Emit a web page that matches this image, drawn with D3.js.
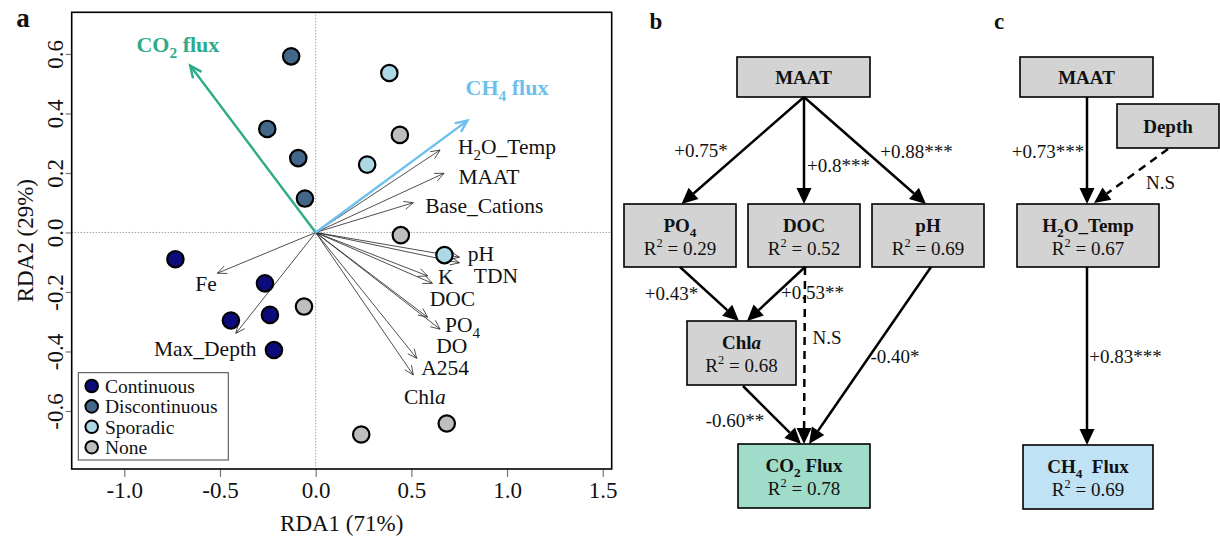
<!DOCTYPE html>
<html><head><meta charset="utf-8">
<script src="https://cdn.jsdelivr.net/npm/d3@7"></script>
<style>
body{margin:0;background:#fff}
svg{display:block}
text{font-family:"Liberation Serif","Times New Roman",serif;fill:#111}
</style>
</head><body><svg id="chart" width="1220" height="536"></svg>
<script>
// ================= Panel a : RDA biplot data =================
const groups = ["Continuous","Discontinuous","Sporadic","None"];
const groupColors = ["#0b0b7c","#436788","#add8e6","#bebebe"];
const siteGroup = [0,0,0,0,0, 1,1,1,1, 2,2,2, 3,3,3,3,3];
const siteRDA1 = [-0.733,-0.265,-0.443,-0.239,-0.218, -0.128,-0.253,-0.091,-0.056, 0.385,0.269,0.673, 0.440,0.445,-0.061,0.685,0.238];
const siteRDA2 = [-0.090,-0.171,-0.296,-0.277,-0.395, 0.592,0.348,0.250,0.114, 0.536,0.228,-0.076, 0.328,-0.009,-0.249,-0.642,-0.679];

const envNames = ["H_{2}O_Temp","MAAT","Base_Cations","pH","TDN","K","DOC","PO_{4}","DO","A254","Chl~{a}","Fe","Max_Depth"];
const envRDA1 = [0.650,0.671,0.510,0.751,0.751,0.585,0.610,0.585,0.650,0.528,0.510,-0.514,-0.417];
const envRDA2 = [0.277,0.199,0.100,-0.083,-0.102,-0.146,-0.171,-0.285,-0.325,-0.423,-0.479,-0.137,-0.339];
const envLabRDA1 = [1.000,0.905,0.881,0.864,0.942,0.680,0.715,0.767,0.711,0.676,0.571,-0.573,-0.577];
const envLabRDA2 = [0.288,0.188,0.092,-0.069,-0.143,-0.149,-0.223,-0.308,-0.381,-0.454,-0.550,-0.171,-0.389];

const respNames = ["CO_{2} flux","CH_{4} flux"];
const respColors = ["#2eab8a","#6dbfec"];
const respRDA1 = [-0.656,0.793];
const respRDA2 = [0.561,0.376];
const respLabRDA1 = [-0.720,1.000];
const respLabRDA2 = [0.634,0.488];

const xTicks = [-1.0,-0.5,0.0,0.5,1.0,1.5];
const yTicks = [-0.6,-0.4,-0.2,0.0,0.2,0.4,0.6];
const xTitle = "RDA1 (71%)";
const yTitle = "RDA2 (29%)";

// ================= Panels b, c : path diagrams data =================
const nodeNames = ["MAAT","PO_{4}","DOC","pH","Chl~{a}","CO_{2} Flux","MAAT","Depth","H_{2}O_Temp","CH_{4}\u00a0\u00a0Flux"];
const nodeR2 = [null,0.29,0.52,0.69,0.68,0.78,null,null,0.67,0.69];
const nodeKind = ["grey","grey","grey","grey","grey","co2","grey","grey","grey","ch4"];
const edgeFrom = [0,0,0,1,2,2,3,4,6,7,8];
const edgeTo   = [1,2,3,4,4,5,5,5,8,8,9];
const edgeCoef = ["+0.75*","+0.8***","+0.88***","+0.43*","+0.53**","N.S","-0.40*","-0.60**","+0.73***","N.S","+0.83***"];
const edgeSignificant = [true,true,true,true,true,false,true,true,true,false,true];

// ---------------- layout (pixels) ----------------
const FONT = '"Liberation Serif","Times New Roman",serif';
const svg = d3.select("#chart");

function rich(sel, str, fs){
  const re = /(_\{[^}]*\}|\^\{[^}]*\}|~\{[^}]*\})/g;
  const parts = str.split(re).filter(s => s.length);
  let pending = 0;
  parts.forEach(p => {
    let t;
    if (p.startsWith("_{")) {
      t = sel.append("tspan").attr("font-size", fs*0.7).attr("dy", pending + fs*0.28).text(p.slice(2,-1));
      pending = -fs*0.28;
    } else if (p.startsWith("^{")) {
      t = sel.append("tspan").attr("font-size", fs*0.65).attr("dy", pending - fs*0.38).text(p.slice(2,-1));
      pending = fs*0.38;
    } else if (p.startsWith("~{")) {
      t = sel.append("tspan").attr("font-style","italic").text(p.slice(2,-1));
      if (pending) { t.attr("dy", pending); pending = 0; }
    } else {
      t = sel.append("tspan").text(p);
      if (pending) { t.attr("dy", pending); pending = 0; }
    }
  });
}

// ================= Panel a =================
const plotL = 71.7, plotR = 611.7, plotT = 12.3, plotB = 469;
const x = d3.scaleLinear().domain([-1.275, 1.547]).range([plotL, plotR]);
const y = d3.scaleLinear().domain([-0.795, 0.740]).range([plotB, plotT]);

const ga = svg.append("g");

ga.append("line").attr("x1", x(0)).attr("x2", x(0)).attr("y1", plotT).attr("y2", plotB)
  .attr("stroke","#666").attr("stroke-width",0.9).attr("stroke-dasharray","1,2");
ga.append("line").attr("x1", plotL).attr("x2", plotR).attr("y1", y(0)).attr("y2", y(0))
  .attr("stroke","#666").attr("stroke-width",0.9).attr("stroke-dasharray","1,2");

const xAxis = ga.append("g").attr("transform", `translate(0,${plotB})`)
  .call(d3.axisBottom(x).tickValues(xTicks).tickSize(8).tickFormat(d => d.toFixed(1)));
xAxis.select(".domain").remove();
xAxis.selectAll(".tick line").attr("stroke","#777").attr("stroke-width",1.2);
xAxis.selectAll(".tick text").attr("font-family",FONT).attr("font-size",23).attr("fill","#111")
  .attr("y",21).attr("dy","0.35em");

const yAxis = ga.append("g").attr("transform", `translate(${plotL},0)`)
  .call(d3.axisLeft(y).tickValues(yTicks).tickSize(6).tickFormat(d => d.toFixed(1)));
yAxis.select(".domain").remove();
yAxis.selectAll(".tick line").attr("stroke","#777").attr("stroke-width",1.2);
yAxis.selectAll(".tick text").attr("font-family",FONT).attr("font-size",23).attr("fill","#111")
  .attr("x",0).attr("y",0).attr("dy","0.35em").attr("text-anchor","middle")
  .attr("transform","translate(-17,0) rotate(-90)");

ga.append("rect").attr("x",plotL).attr("y",plotT).attr("width",plotR-plotL).attr("height",plotB-plotT)
  .attr("fill","none").attr("stroke","#000").attr("stroke-width",1.6);

ga.append("text").attr("x",(plotL+plotR)/2).attr("y",523).attr("dy","0.35em")
  .attr("text-anchor","middle").attr("font-size",23).text(xTitle);
ga.append("text").attr("transform",`translate(25,${(plotT+plotB)/2}) rotate(-90)`).attr("dy","0.35em")
  .attr("text-anchor","middle").attr("font-size",23).text(yTitle);
svg.append("text").attr("x",23).attr("y",27).attr("text-anchor","middle")
  .attr("font-size",27).attr("font-weight","bold").text("a");

function openHead(g, x1, y1, x2, y2, L, color, w){
  const a = Math.atan2(y2-y1, x2-x1);
  const s = 0.42;
  const p1 = [x2 + L*Math.cos(a+Math.PI-s), y2 + L*Math.sin(a+Math.PI-s)];
  const p2 = [x2 + L*Math.cos(a+Math.PI+s), y2 + L*Math.sin(a+Math.PI+s)];
  g.append("path").attr("d",`M${p1[0]},${p1[1]}L${x2},${y2}L${p2[0]},${p2[1]}`)
    .attr("fill","none").attr("stroke",color).attr("stroke-width",w);
}

envNames.forEach((n,i) => {
  const x2 = x(envRDA1[i]), y2 = y(envRDA2[i]);
  ga.append("line").attr("x1",x(0)).attr("y1",y(0)).attr("x2",x2).attr("y2",y2)
    .attr("stroke","#222").attr("stroke-width",0.8);
  openHead(ga, x(0), y(0), x2, y2, 10, "#222", 0.8);
});
respNames.forEach((n,i) => {
  const x2 = x(respRDA1[i]), y2 = y(respRDA2[i]);
  ga.append("line").attr("x1",x(0)).attr("y1",y(0)).attr("x2",x2).attr("y2",y2)
    .attr("stroke",respColors[i]).attr("stroke-width",2.4);
  openHead(ga, x(0), y(0), x2, y2, 13, respColors[i], 2.4);
});

siteRDA1.forEach((v,i) => {
  ga.append("circle").attr("cx",x(v)).attr("cy",y(siteRDA2[i])).attr("r",8.2)
    .attr("fill",groupColors[siteGroup[i]]).attr("stroke","#000").attr("stroke-width",2.2);
});

envNames.forEach((n,i) => {
  const t = ga.append("text").attr("x",x(envLabRDA1[i])).attr("y",y(envLabRDA2[i]) + 21.5*0.35)
    .attr("text-anchor","middle").attr("font-size",21.5);
  rich(t, n, 21.5);
});
respNames.forEach((n,i) => {
  const t = ga.append("text").attr("x",x(respLabRDA1[i])).attr("y",y(respLabRDA2[i]) + 22*0.35)
    .attr("text-anchor","middle").attr("font-size",22).attr("font-weight","bold");
  t.style("fill",respColors[i]);
  rich(t, n, 22);
});

const lg = ga.append("g");
lg.append("rect").attr("x",78.3).attr("y",372.7).attr("width",150).attr("height",87.3)
  .attr("fill","#fff").attr("stroke","#444").attr("stroke-width",1);
groups.forEach((gname,i) => {
  const cy = 386 + i*20.4;
  lg.append("circle").attr("cx",91.7).attr("cy",cy).attr("r",6.3)
    .attr("fill",groupColors[i]).attr("stroke","#000").attr("stroke-width",2);
  lg.append("text").attr("x",105).attr("y",cy).attr("dy","0.35em").attr("font-size",19.5).text(gname);
});

// ================= Panels b & c =================
const nodeBox = [
  [737,57,870,97],[624,204,736,267],[748,204,860,267],[872,204,984,267],
  [687,321,796,385],[738,444,870,508],
  [1020,57,1153,97],[1117,104,1219,148],[1017,204,1159,267],[1023,445,1153,509]
];
const edgeGeom = [
  [804,97,681.5,204],[804,97,804,204],[804,97,926,204],[680,267,739,321],[805,267,747,321],
  [805,267,804,444],[931,267,809,444],[743,386,801,444],
  [1087,97,1087,204],[1168,149,1094,203],[1087,267,1087,445]
];
const edgeLab = [
  [701,150],[838.5,165],[916.6,151.7],[671.5,293.3],[812.5,292.7],
  [827,337],[895,356],[735,420],[1048,151.7],[1160.5,182.7],[1125.6,356]
];
const fills = {grey:"#d3d3d3", co2:"#9fdcc9", ch4:"#bfe2f5"};

const gb = svg.append("g");
svg.append("text").attr("x",656).attr("y",29).attr("text-anchor","middle")
  .attr("font-size",23).attr("font-weight","bold").text("b");
svg.append("text").attr("x",999).attr("y",29).attr("text-anchor","middle")
  .attr("font-size",23).attr("font-weight","bold").text("c");

nodeNames.forEach((n,i) => {
  const [x0,y0,x1,y1] = nodeBox[i];
  gb.append("rect").attr("x",x0).attr("y",y0).attr("width",x1-x0).attr("height",y1-y0)
    .attr("fill",fills[nodeKind[i]]).attr("stroke","#000").attr("stroke-width",1.6);
  const cx = (x0+x1)/2;
  if (nodeR2[i] === null) {
    const t = gb.append("text").attr("x",cx).attr("y",(y0+y1)/2 + 19*0.35)
      .attr("text-anchor","middle").attr("font-size",19).attr("font-weight","bold");
    rich(t, n, 19);
  } else {
    const t = gb.append("text").attr("x",cx).attr("y",y0 + 21 + 19*0.35)
      .attr("text-anchor","middle").attr("font-size",19).attr("font-weight","bold");
    rich(t, n, 19);
    const r = gb.append("text").attr("x",cx).attr("y",y0 + 44 + 19*0.35)
      .attr("text-anchor","middle").attr("font-size",19);
    rich(r, "R^{2} = " + nodeR2[i].toFixed(2), 19);
  }
});

edgeFrom.forEach((f,i) => {
  const [x1,y1,x2,y2] = edgeGeom[i];
  const a = Math.atan2(y2-y1, x2-x1);
  const L = 16, H = 7.5;
  const bx = x2 - L*Math.cos(a), by = y2 - L*Math.sin(a);
  const ln = gb.append("line").attr("x1",x1).attr("y1",y1).attr("x2",bx).attr("y2",by)
    .attr("stroke","#000").attr("stroke-width",2.5);
  if (!edgeSignificant[i]) ln.attr("stroke-dasharray","8,6");
  const px = -Math.sin(a), py = Math.cos(a);
  gb.append("path").attr("d",`M${x2},${y2}L${bx+H*px},${by+H*py}L${bx-H*px},${by-H*py}Z`)
    .attr("fill","#000");
  gb.append("text").attr("x",edgeLab[i][0]).attr("y",edgeLab[i][1]).attr("dy","0.35em")
    .attr("text-anchor","middle").attr("font-size",19).text(edgeCoef[i]);
});
</script>
</body></html>
